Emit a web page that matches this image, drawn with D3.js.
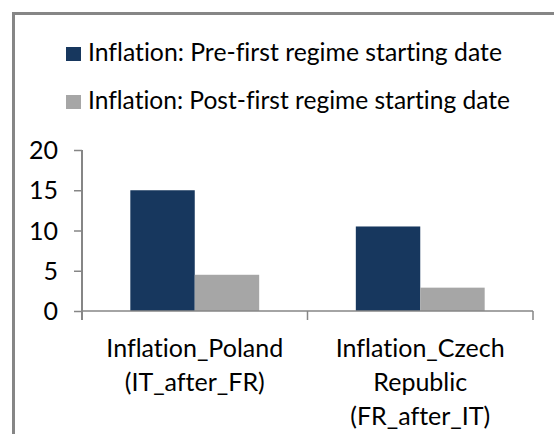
<!DOCTYPE html>
<html>
<head>
<meta charset="utf-8">
<script src="https://cdn.jsdelivr.net/npm/d3@7"></script>
<style>
  body { margin: 0; background: #fff; }
  text { font-family: Lato, "Open Sans", sans-serif; fill: #000;
         font-variant-ligatures: none; font-feature-settings: "liga" 0, "clig" 0; }
</style>
</head>
<body>
<div id="chart"></div>
<script>
'use strict';

// ---- data ----
var categories = ['Inflation_Poland (IT_after_FR)', 'Inflation_Czech Republic (FR_after_IT)'];
var categoryLines = [['Inflation_Poland', '(IT_after_FR)'], ['Inflation_Czech', 'Republic', '(FR_after_IT)']];
var seriesNames = ['Inflation: Pre-first regime starting date', 'Inflation: Post-first regime starting date'];
var preValues = [15.0, 10.5];
var postValues = [4.5, 2.9];
var yTicks = [0, 5, 10, 15, 20];
var seriesColors = ['#17375e', '#a6a6a6'];

var width = 554, height = 434;
var plot = {left: 82, right: 533, top: 150, bottom: 311};

var svg = d3.select('#chart').append('svg')
    .attr('width', width)
    .attr('height', height);

// outer frame (runs off the right and bottom edges)
svg.append('rect')
    .attr('x', 13.5).attr('y', 13.5)
    .attr('width', 700).attr('height', 600)
    .attr('fill', 'none')
    .attr('stroke', '#868686')
    .attr('stroke-width', 3);

// legend
var legend = svg.append('g').attr('class', 'legend');
var legendRows = [{y: 47, base: 61, len: 414}, {y: 95, base: 109, len: 422}];
seriesNames.forEach(function(name, i) {
    legend.append('rect')
        .attr('x', 66).attr('y', legendRows[i].y)
        .attr('width', 15).attr('height', 14)
        .attr('fill', seriesColors[i]);
    legend.append('text')
        .attr('x', 88).attr('y', legendRows[i].base)
        .attr('font-size', 25)
        .attr('textLength', legendRows[i].len)
        .attr('lengthAdjust', 'spacingAndGlyphs')
        .text(name);
});

// scales
var xScale = d3.scaleBand().domain(categories).range([plot.left, plot.right]).padding(0);
var xSub = d3.scaleBand().domain(seriesNames).range([0, xScale.bandwidth()])
    .paddingInner(0).paddingOuter(0.75);
var yScale = d3.scaleLinear().domain([0, 20]).range([plot.bottom, plot.top]);

// bars
var rows = categories.map(function(c, i) {
    return {cat: c, vals: [preValues[i], postValues[i]]};
});
var groups = svg.append('g').selectAll('g')
    .data(rows).enter().append('g')
    .attr('transform', function(d) { return 'translate(' + xScale(d.cat) + ',0)'; });
groups.selectAll('rect')
    .data(function(d) { return d.vals.map(function(v, j) { return {s: seriesNames[j], v: v, j: j}; }); })
    .enter().append('rect')
    .attr('x', function(d) { return xSub(d.s); })
    .attr('y', function(d) { return yScale(d.v); })
    .attr('width', xSub.bandwidth())
    .attr('height', function(d) { return plot.bottom - yScale(d.v); })
    .attr('fill', function(d) { return seriesColors[d.j]; });

// y axis
var yAxis = d3.axisLeft(yScale).tickValues(yTicks).tickSize(8).tickPadding(16);
var yg = svg.append('g').attr('transform', 'translate(' + plot.left + ',0)').call(yAxis);
yg.select('.domain').remove();
yg.selectAll('.tick line').attr('stroke', '#868686').attr('stroke-width', 1.5);
yg.selectAll('.tick text').attr('font-size', 25).attr('font-family', 'Lato, sans-serif')
    .attr('fill', '#000').attr('dy', '0.34em');
yg.append('line')
    .attr('x1', 0).attr('x2', 0)
    .attr('y1', plot.top).attr('y2', plot.bottom + 9)
    .attr('stroke', '#868686').attr('stroke-width', 2);

// x axis: line + ticks at category boundaries
var xg = svg.append('g').attr('class', 'xAxis');
xg.append('line')
    .attr('x1', plot.left).attr('x2', plot.right)
    .attr('y1', plot.bottom).attr('y2', plot.bottom)
    .attr('stroke', '#868686').attr('stroke-width', 1.5);
var bounds = categories.map(function(c) { return xScale(c); }).concat([plot.right]);
xg.selectAll('line.tk')
    .data(bounds.slice(1)).enter().append('line')
    .attr('class', 'tk')
    .attr('x1', function(d) { return d; }).attr('x2', function(d) { return d; })
    .attr('y1', plot.bottom).attr('y2', plot.bottom + 9)
    .attr('stroke', '#868686').attr('stroke-width', 1.5);

// category labels
categories.forEach(function(c, i) {
    var cx = xScale(c) + xScale.bandwidth() / 2;
    var t = xg.append('text')
        .attr('text-anchor', 'middle')
        .attr('font-size', 25);
    categoryLines[i].forEach(function(line, k) {
        t.append('tspan')
            .attr('x', cx)
            .attr('y', 357 + k * 34)
            .text(line);
    });
});
</script>
</body>
</html>
